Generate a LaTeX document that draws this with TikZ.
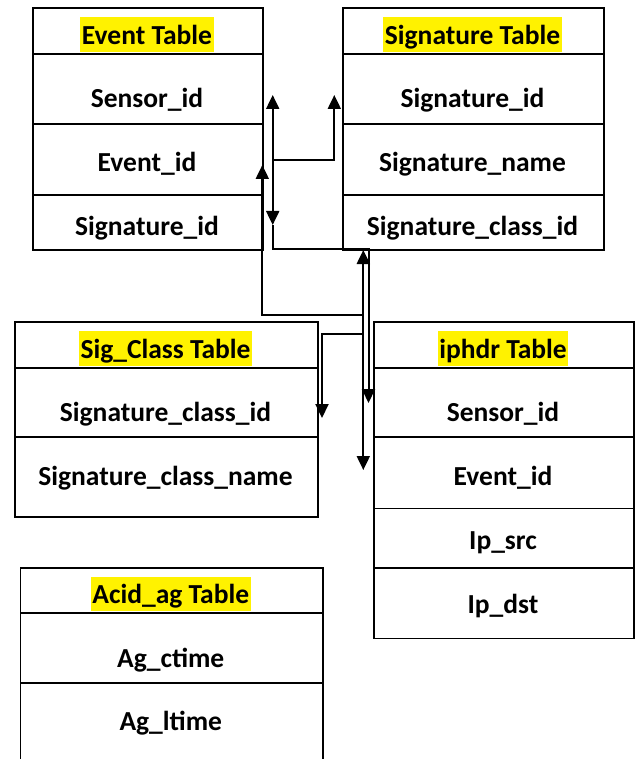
\documentclass[tikz,border=0pt]{standalone}
\usepackage{fontspec}
\setmainfont{Carlito}
\usepackage{xcolor}
\usepackage{tikz}
\usetikzlibrary{math,arrows.meta}

\newcommand{\fldfont}{\bfseries\fontsize{27.5}{31}\selectfont}
\tikzset{
	box/.style={draw, line width=1.6pt, inner sep=0pt, anchor=north west},
	fld/.style={anchor=base, inner sep=0pt, font=\fldfont},
	ttl/.style={fld, fill=yellow, inner xsep=1.5pt, text height=27pt, text depth=7.4pt},
	link/.style={line width=2pt},
	arr/.style={-{Triangle[width=13pt,length=14pt]}},
	dbl/.style={{Triangle[width=13pt,length=14pt]}-{Triangle[width=13pt,length=14pt]}},
}

\begin{document}
\begin{tikzpicture}[x=1pt,y=-1pt]
\clip (0,0) rectangle (640,759);
\tikzmath{
	\ew = 230;\sw = 261;\cw = 303;\iw = 260;\aw = 302.5;
	% event table
	{\node[box, minimum width=\ew, minimum height=46] (ev) at (32,7) {};};
	{\node[box, minimum width=\ew, minimum height=70] (ev1) at (32,53) {};};
	{\node[box, minimum width=\ew, minimum height=71] (ev2) at (32,123) {};};
	{\node[box, minimum width=\ew, minimum height=55] (ev3) at (32,194) {};};
	{\node[ttl] (evt) at (147,44.3) {Event Table};};
	{\node[fld] (evt1) at (147,108) {Sensor\_id};};
	{\node[fld] (evt2) at (147,172) {Event\_id};};
	{\node[fld] (evt3) at (147,235.5) {Signature\_id};};
	% signature table
	{\node[box, minimum width=\sw, minimum height=46] (sg) at (342,7) {};};
	{\node[box, minimum width=\sw, minimum height=70] (sg1) at (342,53) {};};
	{\node[box, minimum width=\sw, minimum height=71] (sg2) at (342,123) {};};
	{\node[box, minimum width=\sw, minimum height=55] (sg3) at (342,194) {};};
	{\node[ttl] (sgt) at (472.5,44.3) {Signature Table};};
	{\node[fld] (sgt1) at (472.5,108) {Signature\_id};};
	{\node[fld] (sgt2) at (472.5,172) {Signature\_name};};
	{\node[fld] (sgt3) at (472.5,235.5) {Signature\_class\_id};};
	% sig_class table
	{\node[box, minimum width=\cw, minimum height=46] (sc) at (14,321) {};};
	{\node[box, minimum width=\cw, minimum height=69] (sc1) at (14,367) {};};
	{\node[box, minimum width=\cw, minimum height=80] (sc2) at (14,436) {};};
	{\node[ttl] (sct) at (165.5,358.3) {Sig\_Class Table};};
	{\node[fld] (sct1) at (165.5,421) {Signature\_class\_id};};
	{\node[fld] (sct2) at (165.5,485) {Signature\_class\_name};};
	% iphdr table
	{\node[box, minimum width=\iw, minimum height=46] (ip) at (373,321) {};};
	{\node[box, minimum width=\iw, minimum height=69] (ip1) at (373,367) {};};
	{\node[box, minimum width=\iw, minimum height=71.5] (ip2) at (373,436) {};};
	{\node[box, minimum width=\iw, minimum height=59.5] (ip3) at (373,507.5) {};};
	{\node[box, minimum width=\iw, minimum height=70.5] (ip4) at (373,567) {};};
	{\node[ttl] (ipt) at (503,358.3) {iphdr Table};};
	{\node[fld] (ipt1) at (503,421) {Sensor\_id};};
	{\node[fld] (ipt2) at (503,485) {Event\_id};};
	{\node[fld] (ipt3) at (503,549) {Ip\_src};};
	{\node[fld] (ipt4) at (503,613) {Ip\_dst};};
	% acid_ag table
	{\node[box, minimum width=\aw, minimum height=45] (ag) at (19.5,567) {};};
	{\node[box, minimum width=\aw, minimum height=70] (ag1) at (19.5,612) {};};
	{\node[box, minimum width=\aw, minimum height=100] (ag2) at (19.5,682) {};};
	{\node[ttl] (agt) at (170.75,603.5) {Acid\_ag Table};};
	{\node[fld] (agt1) at (170.75,667) {Ag\_ctime};};
	{\node[fld] (agt2) at (170.75,730) {Ag\_ltime};};
	%
	{\coordinate (a1) at (272.7,95);};
	{\coordinate (a2) at (272.7,225);};
	{\coordinate (a3) at (272.7,249);};
	{\coordinate (a4) at (368.5,249);};
	{\coordinate (a5) at (368.5,403);};
	{\coordinate (b1) at (272.7,160);};
	{\coordinate (b2) at (334.3,160);};
	{\coordinate (b3) at (334.3,95);};
	{\coordinate (c1) at (363.3,315);};
	{\coordinate (c2) at (262.3,315);};
	{\coordinate (c3) at (262.3,165);};
	{\coordinate (d1) at (363.3,250);};
	{\coordinate (d2) at (363.3,470);};
	{\coordinate (e1) at (363.3,334);};
	{\coordinate (e2) at (322,334);};
	{\coordinate (e3) at (322,418);};
	%
	{\draw[link, dbl] (a1) -- (a2);};
	{\draw[link, arr] plot[] coordinates {(a2) (a3) (a4) (a5)};};
	{\draw[link, arr] plot[] coordinates {(b1) (b2) (b3)};};
	{\draw[link, arr] plot[] coordinates {(c1) (c2) (c3)};};
	{\draw[link, dbl] (d1) -- (d2);};
	{\draw[link, arr] plot[] coordinates {(e1) (e2) (e3)};};
};
\end{tikzpicture}
\end{document}
